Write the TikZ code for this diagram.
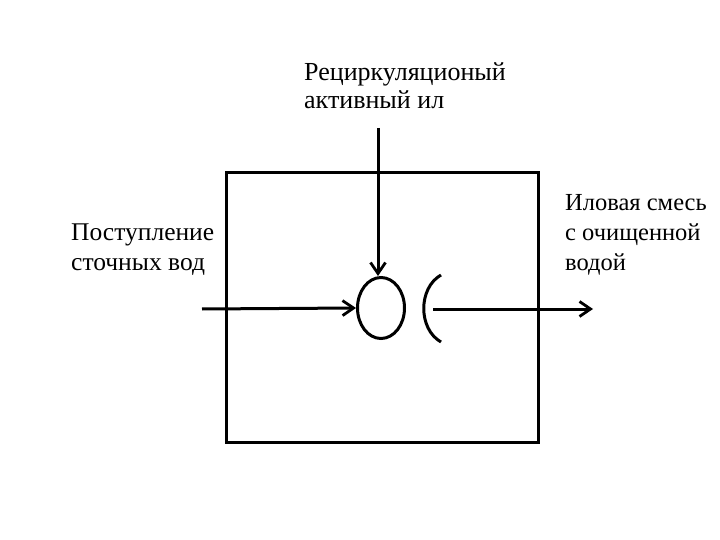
\documentclass[tikz,border=0pt]{standalone}
\usepackage{fontspec}
\setmainfont{Liberation Serif}
\newfontfamily\lblfont{Liberation Serif}
\usetikzlibrary{arrows.meta,shapes.geometric}
\begin{document}
\begin{tikzpicture}[x=1pt,y=-1pt,
  line/.style={line width=3pt},
  arr/.style={line width=3pt,-{Straight Barb[length=11pt,width=15pt,line width=2.8pt]}},
  lbl/.style={font=\lblfont\fontsize{#1}{30}\selectfont,align=left,inner sep=0pt,anchor=base west}]
\useasboundingbox (0,0) rectangle (720,540);
\fill[white] (0,0) rectangle (720,540);
\node[draw,line width=3pt,minimum width=312pt,minimum height=269pt,inner sep=0pt] (tank) at (382,307.5) {};
\node[draw,line width=3pt,ellipse,minimum width=47pt,minimum height=61pt,inner sep=0pt] (floc) at (381,308) {};
\coordinate (brtop) at (441,275);
\coordinate (brbot) at (441,342);
\draw[line] (brtop) .. controls (418,288) and (418,329) .. (brbot);
\coordinate (brmid) at (433,309);
\coordinate (outend) at (593,309);
\draw[arr] (brmid) -- (outend);
\coordinate (inend) at (202,309);
\draw[arr] (inend) -- (floc.west);
\coordinate (topend) at (378,128);
\draw[arr] (topend) -- (floc.north -| topend);
\node[lbl=26,font=\lblfont\fontsize{26}{28}\selectfont] (rec) at (304,109) {Рециркуляционый\\активный ил};
\node[lbl=25.5] (inl) at (71,270) {Поступление\\сточных вод};
\node[lbl=24.5] (outl) at (565,270) {Иловая смесь\\с очищенной\\водой};
\end{tikzpicture}
\end{document}
